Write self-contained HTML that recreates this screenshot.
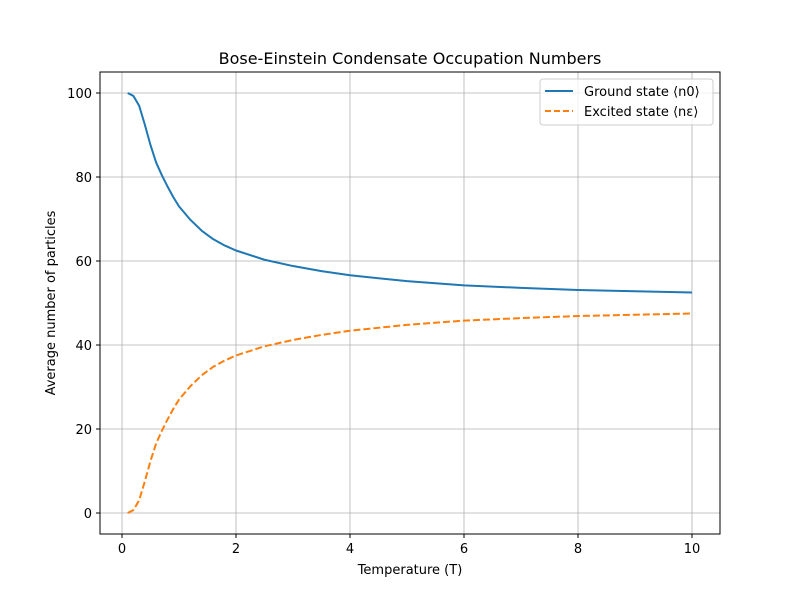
<!DOCTYPE html>
<html><head><meta charset="utf-8"><style>
body{margin:0;background:#fff;}
svg text{font-family:"DejaVu Sans","Liberation Sans",sans-serif;fill:#000;}
</style></head><body>
<svg id="chart" width="800" height="600" xmlns="http://www.w3.org/2000/svg">
<rect width="800" height="600" fill="#fff"/>
<g id="grid"></g>
<g id="ticks"></g>
<g id="series"></g>
<rect x="100" y="72" width="620" height="462" fill="none" stroke="#000" stroke-width="1"/>
<text x="410" y="64" font-size="16" text-anchor="middle">Bose-Einstein Condensate Occupation Numbers</text>
<text x="410" y="574" font-size="13" text-anchor="middle">Temperature (T)</text>
<text x="55" y="303" font-size="13" text-anchor="middle" transform="rotate(-90 55 303)">Average number of particles</text>
<g>
<rect x="540" y="79" width="173" height="46" fill="#fff" fill-opacity="0.8" stroke="#ccc" rx="3"/>
<g>
<line x1="545" y1="91" x2="573" y2="91" stroke="#1f77b4" stroke-width="2"/>
<text x="584" y="96" font-size="13">Ground state ⟨n0⟩</text></g>
<g>
<line x1="545" y1="111" x2="573" y2="111" stroke="#ff7f0e" stroke-width="2" stroke-dasharray="6,3"/>
<text x="584" y="116" font-size="13">Excited state ⟨nε⟩</text></g>
</g>
</svg>
<script>
const temps=[0.1,0.2,0.3,0.4,0.5,0.6,0.7,0.8,0.9,1.0,1.2,1.4,1.6,1.8,2.0,2.5,3.0,3.5,4.0,5.0,6.0,7.0,8.0,9.0,10.0];
const groundVals=[100,99.3,97,92.5,87.6,83.4,80.4,77.7,75.2,73.0,69.8,67.2,65.2,63.7,62.5,60.3,58.8,57.6,56.6,55.2,54.2,53.6,53.1,52.8,52.5];
const excitedVals=[0,0.7,3,7.5,12.4,16.6,19.6,22.3,24.8,27.0,30.2,32.8,34.8,36.3,37.5,39.7,41.2,42.4,43.4,44.8,45.8,46.4,46.9,47.2,47.5];
const xTicks=[0,2,4,6,8,10];
const yTicks=[0,20,40,60,80,100];
const NS="http://www.w3.org/2000/svg";
const xs=v=>122+v*57, ys=v=>513-v*4.2;
const grid=document.getElementById('grid'),ticks=document.getElementById('ticks'),ser=document.getElementById('series');
function mk(t,a,p){const e=document.createElementNS(NS,t);for(const k in a)e.setAttribute(k,a[k]);p.appendChild(e);return e;}
xTicks.forEach(v=>{const x=xs(v);
 const g=mk('line',{x1:x,x2:x,y1:72,y2:534,stroke:'#b0b0b0','stroke-width':0.8},grid);
 
 
 mk('line',{x1:x,x2:x,y1:534,y2:538,stroke:'#000'},ticks);
 const t=mk('text',{x:x,y:553,'font-size':13,'text-anchor':'middle'},ticks);t.textContent=v;
 
 });
yTicks.forEach(v=>{const y=ys(v);
 const g=mk('line',{x1:100,x2:720,y1:y,y2:y,stroke:'#b0b0b0','stroke-width':0.8},grid);
 
 
 mk('line',{x1:96,x2:100,y1:y,y2:y,stroke:'#000'},ticks);
 const t=mk('text',{x:92,y:y+5,'font-size':13,'text-anchor':'end'},ticks);t.textContent=v;
 
 });
const pts=vals=>vals.map((v,i)=>xs(temps[i])+','+ys(v)).join(' ');
const l1=mk('polyline',{points:pts(groundVals),fill:'none',stroke:'#1f77b4','stroke-width':2,'stroke-linejoin':'round'},ser);


const l2=mk('polyline',{points:pts(excitedVals),fill:'none',stroke:'#ff7f0e','stroke-width':2,'stroke-dasharray':'7,3','stroke-linejoin':'round'},ser);


</script>
</body></html>
